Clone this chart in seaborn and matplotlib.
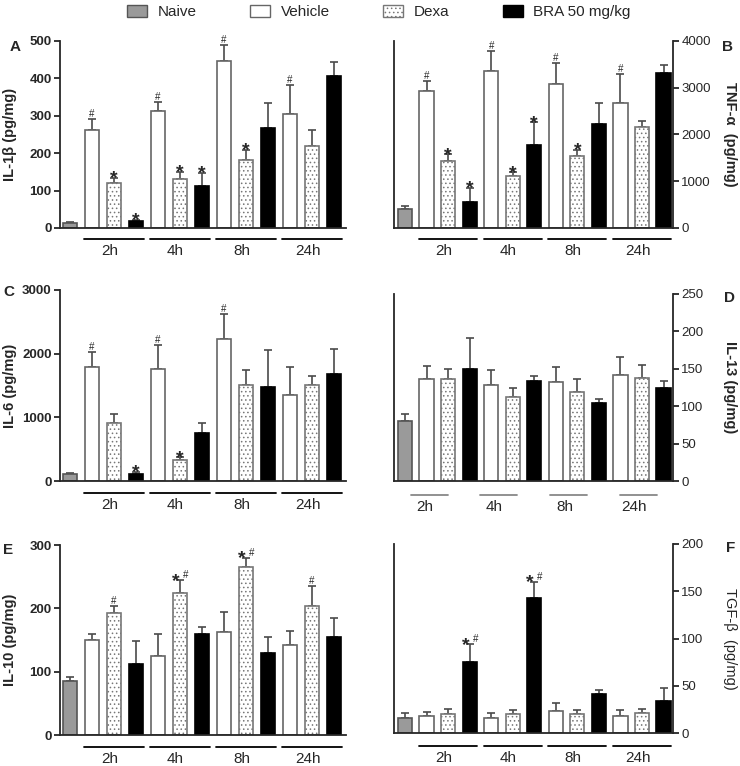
import numpy as np
import pandas as pd
import seaborn as sns
import matplotlib.pyplot as plt
from matplotlib.patches import Patch
from matplotlib.transforms import blended_transform_factory

sns.set_style("ticks")
plt.rcParams['font.family'] = ['Liberation Sans', 'DejaVu Sans']
plt.rcParams['hatch.linewidth'] = 0.6

# ---- data ----
groups = ['Naive', 'Vehicle', 'Dexa', 'BRA 50 mg/kg']
times = ['2h', '4h', '8h', '24h']
bar_group = ['Naive'] + ['Vehicle', 'Dexa', 'BRA 50 mg/kg'] * 4
bar_ids = ['Naive'] + [f'{g} {t}' for t in times for g in groups[1:]]

il1b_mean = [14, 261, 121, 18, 312, 132, 111, 446, 181, 267, 304, 219, 407]
il1b_sem = [3, 31, 14, 4, 26, 19, 36, 42, 28, 66, 78, 42, 36]
il1b_marks = ['', '#', '*', '*', '#', '*', '*', '#', '*', '', '#', '', '']

tnfa_mean = [400, 2929, 1429, 557, 3350, 1121, 1771, 3071, 1536, 2221, 2664, 2171, 3321]
tnfa_sem = [79, 214, 150, 307, 436, 72, 493, 458, 135, 443, 622, 122, 165]
tnfa_marks = ['', '#', '*', '*', '#', '*', '*', '#', '*', '', '#', '', '']

il6_mean = [115, 1783, 912, 115, 1767, 325, 750, 2234, 1510, 1479, 1353, 1505, 1673]
il6_sem = [11, 236, 137, 32, 367, 47, 162, 393, 226, 582, 441, 147, 398]
il6_marks = ['', '#', '', '*', '#', '*', '', '#', '', '', '', '', '']

il13_mean = [80, 137, 136, 150, 128, 112.5, 134, 133, 119, 104, 142, 137.5, 124.5]
il13_sem = [9, 17, 14, 41, 21, 12, 7, 20, 17, 6, 24, 17, 9]
il13_marks = [''] * 13

il10_mean = [85, 150, 193, 112, 125, 225, 160, 162, 266, 130, 142, 203, 154]
il10_sem = [6, 10, 11, 36, 35, 19, 11, 32, 14, 25, 22, 32, 30]
il10_marks = ['', '', '#', '', '', '*#', '', '', '*#', '', '', '#', '']

tgfb_mean = [16, 18, 20.5, 75, 16, 20.5, 143, 23.6, 20.5, 41, 17.6, 20.8, 34]
tgfb_sem = [5, 4, 5, 19, 5, 4, 17, 8, 4, 4, 7, 5, 14]
tgfb_marks = ['', '', '', '*#', '', '', '*#', '', '', '', '', '', '']

# ---- styles ----
fill = {'Naive': '#9a9a9a', 'Vehicle': 'white', 'Dexa': 'white', 'BRA 50 mg/kg': 'black'}
edge = {'Naive': '#555555', 'Vehicle': '#666666', 'Dexa': '#777777', 'BRA 50 mg/kg': 'black'}

W, H = 740, 766
fig = plt.figure(figsize=(W / 100, H / 100), dpi=100)


def rect(x0, x1, ytop, ybot):
    return [x0 / W, 1 - ybot / H, (x1 - x0) / W, (ybot - ytop) / H]


panels = [
    dict(mean=il1b_mean, sem=il1b_sem, marks=il1b_marks, ymax=500, step=100,
         label='IL-1β (pg/mg)', letter='A', side='left', rect=rect(60, 346, 41, 228),
         letter_xy=(10, 47), line_y=-0.06, lab_y=-0.125),
    dict(mean=tnfa_mean, sem=tnfa_sem, marks=tnfa_marks, ymax=4000, step=1000,
         label='TNF-α  (pg/mg)', letter='B', side='right', rect=rect(394, 673, 41, 228),
         letter_xy=(722, 47), line_y=-0.06, lab_y=-0.125),
    dict(mean=il6_mean, sem=il6_sem, marks=il6_marks, ymax=3000, step=1000,
         label='IL-6 (pg/mg)', letter='C', side='left', rect=rect(60, 346, 290, 481),
         letter_xy=(3, 292), line_y=-0.065, lab_y=-0.125),
    dict(mean=il13_mean, sem=il13_sem, marks=il13_marks, ymax=250, step=50,
         label='IL-13 (pg/mg)', letter='D', side='right', rect=rect(394, 673, 294, 481),
         letter_xy=(724, 298), line_y=-0.075, lab_y=-0.14),
    dict(mean=il10_mean, sem=il10_sem, marks=il10_marks, ymax=300, step=100,
         label='IL-10 (pg/mg)', letter='E', side='left', rect=rect(60, 346, 545, 735),
         letter_xy=(3, 550), line_y=-0.065, lab_y=-0.125),
    dict(mean=tgfb_mean, sem=tgfb_sem, marks=tgfb_marks, ymax=200, step=50,
         label='TGF-β  (pg/mg)', letter='F', side='right', rect=rect(394, 673, 544, 733),
         letter_xy=(726, 548), line_y=-0.07, lab_y=-0.13),
]

for p in panels:
    ax = fig.add_axes(p['rect'])
    df = pd.DataFrame({'bar': bar_ids, 'value': p['mean'], 'group': bar_group})
    sns.barplot(data=df, x='bar', y='value', hue='group', order=bar_ids,
                hue_order=groups, palette=fill, dodge=False, width=0.66,
                errorbar=None, legend=False, ax=ax, zorder=2)
    for patch in ax.patches:
        i = int(round(patch.get_x() + patch.get_width() / 2))
        g = bar_group[i]
        patch.set_edgecolor(edge[g])
        patch.set_linewidth(1.2)
        if g == 'Dexa':
            patch.set_hatch('....')

    x = np.arange(len(bar_ids))
    mean = np.array(p['mean'], dtype=float)
    sem = np.array(p['sem'], dtype=float)
    ax.errorbar(x, mean, yerr=[np.zeros_like(sem), sem], fmt='none',
                ecolor='#4a4a4a', elinewidth=1.2, capsize=3, capthick=1.2, zorder=1)

    # significance marks
    for i, m in enumerate(p['marks']):
        top = mean[i] + sem[i]
        if m == '#':
            ax.annotate('#', (i, top), xytext=(0, 1.5), textcoords='offset points',
                        ha='center', va='baseline', fontsize=7)
        elif m == '*':
            ax.annotate('*', (i, top), xytext=(0, -4), textcoords='offset points',
                        ha='center', va='baseline', fontsize=14, fontweight='bold')
        elif m == '*#':
            ax.annotate('*', (i, top), xytext=(-3, -4), textcoords='offset points',
                        ha='center', va='baseline', fontsize=14, fontweight='bold')
            ax.annotate('#', (i, top), xytext=(4, 1.5), textcoords='offset points',
                        ha='center', va='baseline', fontsize=7)

    ax.set_ylim(0, p['ymax'])
    ax.set_yticks(np.arange(0, p['ymax'] + 1, p['step']))
    ax.set_xticks([])
    ax.set_xlabel('')
    ax.tick_params(axis='y', length=4, width=1.3, labelsize=9.5, pad=2)
    for lab in ax.get_yticklabels():
        lab.set_fontweight('bold')
    ax.spines['top'].set_visible(False)
    for s in ['left', 'right', 'bottom']:
        ax.spines[s].set_linewidth(1.3)

    if p['side'] == 'left':
        ax.set_xlim(-0.45, 12.55)
        ax.spines['right'].set_visible(False)
        ax.set_ylabel(p['label'], fontsize=10.5, fontweight='bold')
        ax.yaxis.set_label_coords(-0.15, 0.5)
    else:
        ax.set_xlim(-0.51, 12.44)
        ax.yaxis.tick_right()
        ax.yaxis.set_label_position('right')
        weight = 'normal' if p['letter'] == 'F' else 'bold'
        ax.set_ylabel(p['label'], fontsize=10.5, fontweight=weight, rotation=270,
                      va='bottom')
        ax.yaxis.set_label_coords(1.18, 0.5)
    fig.text(p['letter_xy'][0] / W, 1 - p['letter_xy'][1] / H, p['letter'],
             fontsize=11, fontweight='bold', ha='left', va='center')

    # time group underlines and labels
    trans = blended_transform_factory(ax.transData, ax.transAxes)
    for k, t in enumerate(times):
        if p['letter'] == 'D':
            c, hw, col = [1.13, 4.33, 7.6, 10.85][k], 0.87, '#888888'
        else:
            c, hw, col = 2 + 3 * k, 1.35, 'black'
        ax.plot([c - hw, c + hw], [p['line_y'], p['line_y']], color=col, lw=1.3,
                transform=trans, clip_on=False)
        ax.text(c - 0.2, p['lab_y'], t, transform=trans, ha='center', va='center',
                fontsize=11)

handles = [Patch(facecolor=fill[g], edgecolor=edge[g], hatch='....' if g == 'Dexa' else None,
                 linewidth=1.0) for g in groups]
fig.legend(handles, groups, loc='center', bbox_to_anchor=(0.512, 0.984), ncol=4,
           frameon=False, fontsize=11, handlelength=1.3, handleheight=0.75,
           handletextpad=0.7, columnspacing=3.5)

fig.savefig('out.png', dpi=100)
